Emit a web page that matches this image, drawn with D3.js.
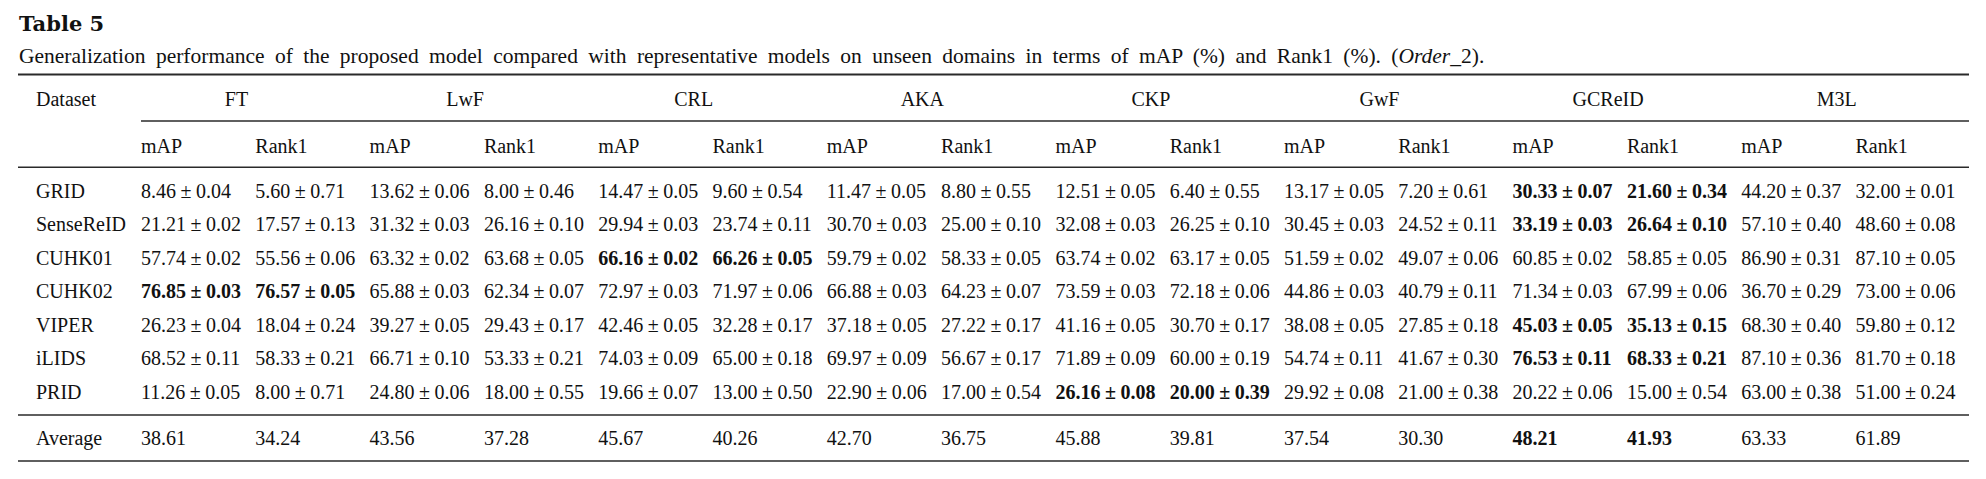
<!DOCTYPE html>
<html>
<head>
<meta charset="utf-8">
<script src="https://cdn.jsdelivr.net/npm/d3@7"></script>
<style>
  body { margin: 0; background: #fff; }
  svg { display: block; font-family: "Liberation Serif", serif; fill: #111; }
</style>
</head>
<body>
<div class="container"></div>
<script>
// Table data
const datasets = ["GRID", "SenseReID", "CUHK01", "CUHK02", "VIPER", "iLIDS", "PRID"];
const methods = ["FT", "LwF", "CRL", "AKA", "CKP", "GwF", "GCReID", "M3L"];
const metrics = ["mAP", "Rank1"];

// one row per dataset, columns: method x (mAP, Rank1)
const means = [
  [8.46, 5.60, 13.62, 8.00, 14.47, 9.60, 11.47, 8.80, 12.51, 6.40, 13.17, 7.20, 30.33, 21.60, 44.20, 32.00],
  [21.21, 17.57, 31.32, 26.16, 29.94, 23.74, 30.70, 25.00, 32.08, 26.25, 30.45, 24.52, 33.19, 26.64, 57.10, 48.60],
  [57.74, 55.56, 63.32, 63.68, 66.16, 66.26, 59.79, 58.33, 63.74, 63.17, 51.59, 49.07, 60.85, 58.85, 86.90, 87.10],
  [76.85, 76.57, 65.88, 62.34, 72.97, 71.97, 66.88, 64.23, 73.59, 72.18, 44.86, 40.79, 71.34, 67.99, 36.70, 73.00],
  [26.23, 18.04, 39.27, 29.43, 42.46, 32.28, 37.18, 27.22, 41.16, 30.70, 38.08, 27.85, 45.03, 35.13, 68.30, 59.80],
  [68.52, 58.33, 66.71, 53.33, 74.03, 65.00, 69.97, 56.67, 71.89, 60.00, 54.74, 41.67, 76.53, 68.33, 87.10, 81.70],
  [11.26, 8.00, 24.80, 18.00, 19.66, 13.00, 22.90, 17.00, 26.16, 20.00, 29.92, 21.00, 20.22, 15.00, 63.00, 51.00]
];
const stds = [
  [0.04, 0.71, 0.06, 0.46, 0.05, 0.54, 0.05, 0.55, 0.05, 0.55, 0.05, 0.61, 0.07, 0.34, 0.37, 0.01],
  [0.02, 0.13, 0.03, 0.10, 0.03, 0.11, 0.03, 0.10, 0.03, 0.10, 0.03, 0.11, 0.03, 0.10, 0.40, 0.08],
  [0.02, 0.06, 0.02, 0.05, 0.02, 0.05, 0.02, 0.05, 0.02, 0.05, 0.02, 0.06, 0.02, 0.05, 0.31, 0.05],
  [0.03, 0.05, 0.03, 0.07, 0.03, 0.06, 0.03, 0.07, 0.03, 0.06, 0.03, 0.11, 0.03, 0.06, 0.29, 0.06],
  [0.04, 0.24, 0.05, 0.17, 0.05, 0.17, 0.05, 0.17, 0.05, 0.17, 0.05, 0.18, 0.05, 0.15, 0.40, 0.12],
  [0.11, 0.21, 0.10, 0.21, 0.09, 0.18, 0.09, 0.17, 0.09, 0.19, 0.11, 0.30, 0.11, 0.21, 0.36, 0.18],
  [0.05, 0.71, 0.06, 0.55, 0.07, 0.50, 0.06, 0.54, 0.08, 0.39, 0.08, 0.38, 0.06, 0.54, 0.38, 0.24]
];
const averages = [38.61, 34.24, 43.56, 37.28, 45.67, 40.26, 42.70, 36.75, 45.88, 39.81, 37.54, 30.30, 48.21, 41.93, 63.33, 61.89];
// which method is bold in each row (dataset rows, then Average)
const boldMethod = ["GCReID", "GCReID", "CRL", "FT", "GCReID", "GCReID", "CKP", "GCReID"];

const width = 1986;
const height = 479;

const svg = d3.select(".container")
  .append("svg")
  .attr("width", width)
  .attr("height", height);

// column positions (16 value columns)
const x = d3.scaleLinear().domain([0, 15]).range([141, 1855.5]);
// dataset row baselines
const y = d3.scaleLinear().domain([0, 6]).range([197.7, 398.7]);

const left = 18, right = 1969;
const fs = 20;

// Title + caption
svg.append("text")
  .attr("x", left + 1).attr("y", 31)
  .attr("font-family", "DejaVu Serif")
  .attr("font-size", 21).attr("font-weight", "bold")
  .text("Table 5");

const cap = svg.append("text")
  .attr("x", left + 1).attr("y", 63)
  .attr("font-size", 21.5)
  .attr("word-spacing", 5);
cap.append("tspan").text("Generalization performance of the proposed model compared with representative models on unseen domains in terms of mAP (%) and Rank1 (%). (");
cap.append("tspan").attr("font-style", "italic").text("Order");
cap.append("tspan").text("_2).");

// rules
const rules = [
  {y: 74.5, x0: left, w: 2},
  {y: 121, x0: x(0), w: 1.4},
  {y: 167.3, x0: left, w: 1.4},
  {y: 415, x0: left, w: 1.4},
  {y: 461, x0: left, w: 1.6}
];
svg.append("g").selectAll("line")
  .data(rules)
  .enter()
  .append("line")
    .attr("x1", d => d.x0).attr("x2", right)
    .attr("y1", d => d.y).attr("y2", d => d.y)
    .attr("stroke", "#2a2a2a")
    .attr("stroke-width", d => d.w);

// header
const head = svg.append("g").attr("font-size", fs);
head.append("text").attr("x", 36).attr("y", 106).text("Dataset");
head.selectAll(".grp")
  .data(methods)
  .enter()
  .append("text")
    .attr("class", "grp")
    .attr("x", (d, i) => x(i * 2) + 95.5)
    .attr("y", 106)
    .attr("text-anchor", "middle")
    .text(d => d);
head.selectAll(".met")
  .data(d3.range(16))
  .enter()
  .append("text")
    .attr("class", "met")
    .attr("x", d => x(d))
    .attr("y", 152.7)
    .text(d => metrics[d % 2]);

// body rows
const body = svg.append("g").attr("font-size", fs);
datasets.forEach((name, r) => {
  body.append("text").attr("x", 36).attr("y", y(r)).text(name);
  const cells = body.selectAll(".c" + r)
    .data(means[r].map((m, c) => ({m: m, s: stds[r][c], c: c})))
    .enter()
    .append("text")
      .attr("class", "c" + r)
      .attr("x", d => x(d.c))
      .attr("y", y(r))
      .attr("font-weight", d => methods[Math.floor(d.c / 2)] === boldMethod[r] ? "bold" : "normal");
  cells.append("tspan").text(d => d.m.toFixed(2));
  cells.append("tspan").attr("dx", 4.5).text("\u00b1");
  cells.append("tspan").attr("dx", 4.5).text(d => d.s.toFixed(2));
});

// average row
const avgY = 445;
body.append("text").attr("x", 36).attr("y", avgY).text("Average");
body.selectAll(".avg")
  .data(averages)
  .enter()
  .append("text")
    .attr("class", "avg")
    .attr("x", (d, i) => x(i))
    .attr("y", avgY)
    .attr("font-weight", (d, i) => methods[Math.floor(i / 2)] === boldMethod[7] ? "bold" : "normal")
    .text(d => d.toFixed(2));
</script>
</body>
</html>
